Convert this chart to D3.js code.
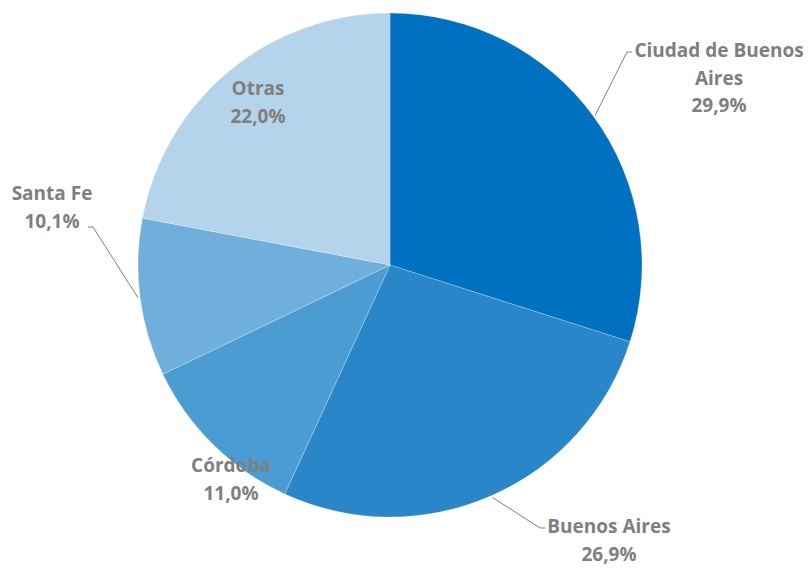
<!DOCTYPE html>
<html lang="es">
<head>
  <meta charset="UTF-8">
  <title>Distribución por provincia</title>
  <style>
    body { margin: 0; background: #fff; }
    svg { display: block; }
    .label { font-family: "Open Sans", Lato, sans-serif; font-weight: bold; font-size: 19px; fill: #7f7f7f; }
    .leader { fill: none; stroke: #7f7f7f; stroke-width: 1; }
  </style>
</head>
<body>
  <svg id="chart"></svg>
  <script src="https://d3js.org/d3.v7.min.js"></script>
  <script>
    // datos
    const categories = ["Ciudad de Buenos Aires", "Buenos Aires", "Córdoba", "Santa Fe", "Otras"];
    const values = [29.9, 26.9, 11.0, 10.1, 22.0];
    const labelLines = [["Ciudad de Buenos", "Aires"], ["Buenos Aires"], ["Córdoba"], ["Santa Fe"], ["Otras"]];
    const colors = ["#0070c0", "#2986c8", "#4b9cd3", "#70afdc", "#b4d4ec"];

    const width = 812, height = 569;
    const cx = 390, cy = 265, radius = 252;

    // posición de cada etiqueta (centro del texto, primera línea) y fin de la línea guía
    const labelLayout = [
      { x: 719, y: 57, leader: [632, 52] },
      { x: 609, y: 533, leader: [545, 528] },
      { x: 231, y: 472, leader: null },
      { x: 52, y: 200, leader: [88, 227] },
      { x: 258, y: 95, leader: null }
    ];
    const lineGap = 27.5;

    const svg = d3.select("#chart").attr("width", width).attr("height", height);
    const g = svg.append("g").attr("transform", `translate(${cx},${cy})`);

    const pie = d3.pie().sort(null).value(d => d);
    const arcs = pie(values);
    const arc = d3.arc().innerRadius(0).outerRadius(radius);

    g.selectAll("path.slice")
      .data(arcs)
      .enter()
      .append("path")
      .attr("class", "slice")
      .attr("d", arc)
      .attr("fill", (d, i) => colors[i])
      .attr("stroke", "rgba(255,255,255,0.35)")
      .attr("stroke-width", 0.7);

    const fmt = v => d3.format(".1f")(v).replace(".", ",") + "%";

    // líneas guía
    arcs.forEach((d, i) => {
      const L = labelLayout[i];
      if (!L.leader) return;
      const mid = (d.startAngle + d.endAngle) / 2;
      const sx = cx + Math.sin(mid) * (radius + 2);
      const sy = cy - Math.cos(mid) * (radius + 2);
      const ex = L.leader[0], ey = L.leader[1];
      const dir = ex > cx ? -1 : 1;
      svg.append("polyline")
        .attr("class", "leader")
        .attr("points", [[sx, sy], [ex + dir * 5, ey], [ex, ey]].map(p => p.join(",")).join(" "));
    });

    // etiquetas
    arcs.forEach((d, i) => {
      const L = labelLayout[i];
      const lines = labelLines[i].concat([fmt(values[i])]);
      const t = svg.append("text")
        .attr("class", "label")
        .attr("text-anchor", "middle");
      lines.forEach((s, k) => {
        t.append("tspan").attr("x", L.x).attr("y", L.y + k * lineGap).text(s);
      });
    });
  </script>
</body>
</html>
